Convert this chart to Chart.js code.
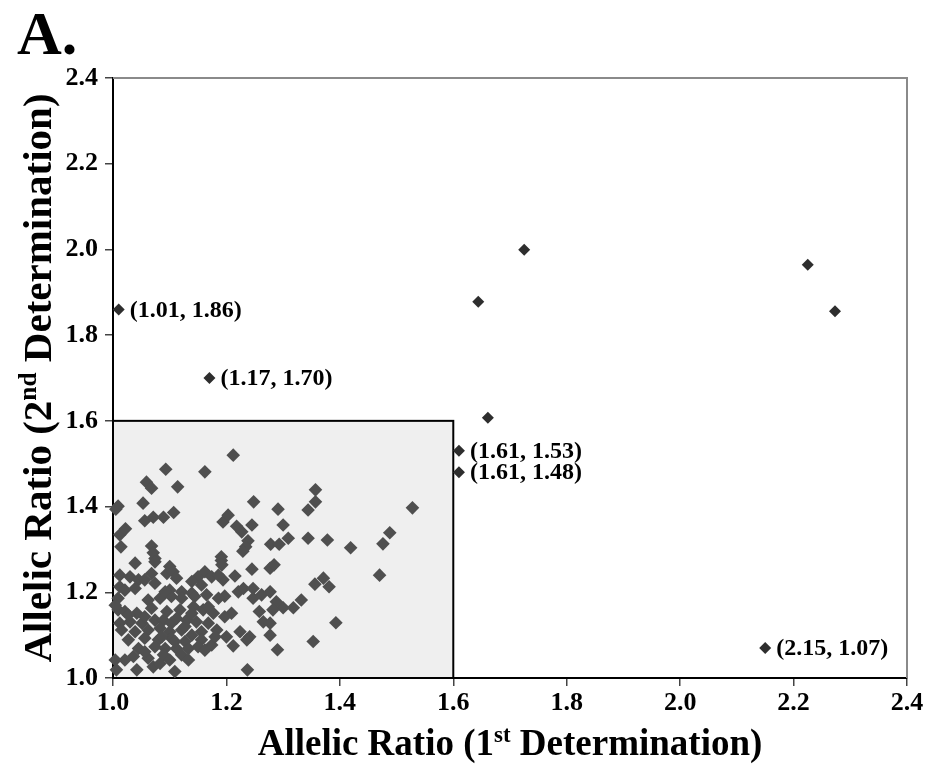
<!DOCTYPE html>
<html>
<head>
<meta charset="utf-8">
<script src="https://cdn.jsdelivr.net/npm/chart.js@4.4.1/dist/chart.umd.min.js"></script>
<style>
  html, body { margin: 0; padding: 0; background: #ffffff; }
  #wrap { position: relative; width: 929px; height: 764px; }
  canvas { display: block; }
</style>
</head>
<body>
<div id="wrap"><canvas id="chart" width="929" height="764"></canvas></div>
<script>
// Axis ticks (both axes share the same range)
const axisTicks = [1.0, 1.2, 1.4, 1.6, 1.8, 2.0, 2.2, 2.4];

// Reference window: ratios up to 1.6 on both determinations
const windowMin = 1.0;
const windowMax = 1.6;

// Samples inside the window: [1st determination, 2nd determination]
const windowUpper = [
  [1.212,1.520],[1.093,1.487],[1.162,1.481],[1.059,1.457],[1.068,1.443],[1.114,1.446],
  [1.009,1.401],[1.005,1.394],[1.053,1.408],[1.248,1.411],[1.291,1.394],[1.056,1.367],
  [1.071,1.375],[1.089,1.375],[1.107,1.386],[1.194,1.364],[1.203,1.380],[1.218,1.354],
  [1.227,1.341],[1.245,1.357],[1.300,1.357],[1.012,1.334],[1.022,1.348],[1.014,1.306],
  [1.068,1.308],[1.071,1.292],[1.074,1.279],[1.238,1.320],[1.234,1.306],[1.229,1.296],
  [1.278,1.312],[1.293,1.312],[1.309,1.326],[1.191,1.283],[1.191,1.274],[1.357,1.439],
  [1.357,1.411],[1.344,1.392],[1.344,1.326],[1.378,1.322],[1.419,1.304],[1.528,1.397],
  [1.488,1.339],[1.476,1.313]
];
const windowMiddle = [
  [1.470,1.240],[1.356,1.219],[1.371,1.233],[1.381,1.213],[1.332,1.182],[1.318,1.164],
  [1.300,1.164],[1.393,1.129],[1.353,1.085],[1.290,1.066],[1.245,1.254],[1.277,1.256],
  [1.284,1.264],[1.215,1.238],[1.194,1.229],[1.221,1.201],[1.230,1.209],[1.197,1.191],
  [1.247,1.209],[1.247,1.186],[1.262,1.194],[1.277,1.201],[1.288,1.178],[1.282,1.159],
  [1.258,1.155],[1.209,1.151],[1.197,1.143],[1.265,1.131],[1.277,1.128],[1.277,1.100],
  [1.200,1.096],[1.224,1.108],[1.241,1.096],[1.236,1.089],[1.212,1.075],[1.237,1.019],
  [1.192,1.264]
];
const windowLower = [
  [1.039,1.268],[1.074,1.271],[1.100,1.260],[1.012,1.240],[1.030,1.236],[1.045,1.229],
  [1.068,1.244],[1.095,1.244],[1.106,1.248],[1.112,1.233],[1.150,1.236],[1.162,1.248],
  [1.174,1.236],[1.186,1.240],[1.012,1.213],[1.021,1.205],[1.039,1.209],[1.074,1.221],
  [1.100,1.205],[1.121,1.201],[1.139,1.198],[1.156,1.217],[1.009,1.186],[1.062,1.182],
  [1.083,1.186],[1.103,1.190],[1.121,1.186],[1.144,1.190],[1.165,1.194],[1.186,1.186],
  [1.009,1.159],[1.021,1.155],[1.042,1.151],[1.068,1.163],[1.095,1.155],[1.118,1.159],
  [1.142,1.166],[1.159,1.159],[1.177,1.151],[1.012,1.128],[1.030,1.131],[1.051,1.128],
  [1.074,1.135],[1.089,1.135],[1.103,1.128],[1.112,1.139],[1.130,1.135],[1.147,1.131],
  [1.168,1.128],[1.015,1.112],[1.039,1.108],[1.062,1.112],[1.083,1.116],[1.100,1.108],
  [1.121,1.112],[1.139,1.100],[1.156,1.108],[1.183,1.112],[1.027,1.089],[1.056,1.093],
  [1.080,1.089],[1.103,1.093],[1.127,1.085],[1.156,1.089],[1.174,1.077],[1.045,1.069],
  [1.074,1.073],[1.092,1.069],[1.112,1.069],[1.133,1.069],[1.150,1.073],[1.162,1.065],
  [1.036,1.050],[1.062,1.046],[1.089,1.054],[1.121,1.054],[1.021,1.042],[1.004,1.042],
  [1.071,1.026],[1.083,1.034],[1.006,1.019],[1.109,1.015],[1.042,1.019]
];
// Samples partly hidden inside the densest overlap
const windowDense = [
  [1.004,1.170],[1.027,1.147],[1.056,1.143],[1.086,1.096],[1.109,1.085],[1.127,1.120],
  [1.139,1.151],[1.168,1.166],[1.180,1.096],[1.133,1.042],[1.100,1.042],[1.056,1.061],
  [1.139,1.225],[1.092,1.201],[1.056,1.229]
];

// Samples outside the window
const outsideUnlabelled = [
  [1.644,1.878],[1.725,1.999],[1.661,1.607],[2.225,1.964],[2.273,1.856]
];
const outsideLabelled = [
  [1.01,1.86],[1.17,1.70],[1.61,1.53],[1.61,1.48],[2.15,1.07]
];

const SERIF = '"Liberation Serif", "Times New Roman", Times, serif';

const toXY = arr => arr.map(p => ({ x: p[0], y: p[1] }));
const insidePts = toXY(windowUpper.concat(windowMiddle, windowLower, windowDense));

// Grey window box with black outline, plus grey top/right frame
const framePlugin = {
  id: 'frame',
  beforeDatasetsDraw(chart) {
    const { ctx, chartArea: a, scales: { x, y } } = chart;
    ctx.save();
    ctx.strokeStyle = '#8a8a8a';
    ctx.lineWidth = 2;
    ctx.beginPath();
    ctx.moveTo(a.left, a.top);
    ctx.lineTo(a.right, a.top);
    ctx.lineTo(a.right, a.bottom);
    ctx.stroke();

    const x0 = x.getPixelForValue(windowMin), x1 = x.getPixelForValue(windowMax);
    const y0 = y.getPixelForValue(windowMin), y1 = y.getPixelForValue(windowMax);
    ctx.fillStyle = '#efefef';
    ctx.fillRect(x0, y1, x1 - x0, y0 - y1);
    ctx.strokeStyle = '#000000';
    ctx.lineWidth = 2;
    ctx.strokeRect(x0, y1, x1 - x0, y0 - y1);
    ctx.restore();
  }
};

function drawRich(ctx, parts, size, supScale) {
  let total = 0;
  const widths = parts.map(p => {
    ctx.font = 'bold ' + (p.sup ? size * supScale : size) + 'px ' + SERIF;
    const w = ctx.measureText(p.t).width;
    total += w;
    return w;
  });
  let cx = -total / 2;
  parts.forEach((p, i) => {
    ctx.font = 'bold ' + (p.sup ? size * supScale : size) + 'px ' + SERIF;
    ctx.fillText(p.t, cx, p.sup ? -size * 0.36 : 0);
    cx += widths[i];
  });
}

// Axis titles, panel letter and point value labels
const textPlugin = {
  id: 'texts',
  afterDatasetsDraw(chart) {
    const { ctx, chartArea: a, scales: { x, y } } = chart;
    ctx.save();
    ctx.fillStyle = '#000000';
    ctx.textBaseline = 'alphabetic';
    ctx.textAlign = 'left';

    // panel letter
    ctx.font = 'bold 62px ' + SERIF;
    ctx.fillText('A.', 17, 54);

    // x title
    ctx.save();
    ctx.translate((a.left + a.right) / 2, 755);
    drawRich(ctx, [
      { t: 'Allelic Ratio (1' }, { t: 'st', sup: true }, { t: ' Determination)' }
    ], 37, 0.62);
    ctx.restore();

    // y title
    ctx.save();
    ctx.translate(51, (a.top + a.bottom) / 2);
    ctx.rotate(-Math.PI / 2);
    drawRich(ctx, [
      { t: 'Allelic Ratio (2' }, { t: 'nd', sup: true }, { t: ' Determination)' }
    ], 41, 0.62);
    ctx.restore();

    // value labels beside the outlying points
    ctx.font = 'bold 24px ' + SERIF;
    ctx.textBaseline = 'middle';
    outsideLabelled.forEach(p => {
      const px = x.getPixelForValue(p[0]);
      const py = y.getPixelForValue(p[1]);
      ctx.fillText('(' + p[0].toFixed(2) + ', ' + p[1].toFixed(2) + ')', px + 11, py + 1);
    });
    ctx.restore();
  }
};

const tickFont = { family: SERIF, size: 26, weight: 'bold' };

new Chart(document.getElementById('chart'), {
  type: 'scatter',
  data: {
    datasets: [
      {
        label: 'within window',
        data: insidePts,
        pointStyle: 'rectRot',
        pointRadius: 6.8,
        pointHoverRadius: 6.8,
        backgroundColor: '#4f4f4f',
        borderColor: '#4f4f4f',
        borderWidth: 0,
        clip: false
      },
      {
        label: 'outside window',
        data: toXY(outsideUnlabelled.concat(outsideLabelled)),
        pointStyle: 'rectRot',
        pointRadius: 6,
        pointHoverRadius: 6,
        backgroundColor: '#2e2e2e',
        borderColor: '#2e2e2e',
        borderWidth: 0,
        clip: false
      }
    ]
  },
  options: {
    responsive: false,
    animation: false,
    events: [],
    layout: { padding: { left: 0, top: 78, right: 22, bottom: 0 } },
    plugins: {
      legend: { display: false },
      tooltip: { enabled: false },
      title: { display: false }
    },
    scales: {
      x: {
        type: 'linear',
        min: axisTicks[0],
        max: axisTicks[axisTicks.length - 1],
        afterBuildTicks: s => { s.ticks = axisTicks.map(v => ({ value: v })); },
        afterFit: s => { s.height = 86; },
        grid: { display: true, drawOnChartArea: false, drawTicks: true, tickLength: 8, color: '#444', lineWidth: 1.5 },
        border: { display: true, color: '#000', width: 2 },
        ticks: {
          font: tickFont, color: '#000', padding: 2, maxRotation: 0, autoSkip: false,
          callback: v => v.toFixed(1)
        }
      },
      y: {
        type: 'linear',
        min: axisTicks[0],
        max: axisTicks[axisTicks.length - 1],
        afterBuildTicks: s => { s.ticks = axisTicks.map(v => ({ value: v })); },
        afterFit: s => { s.width = 113; },
        grid: { display: true, drawOnChartArea: false, drawTicks: true, tickLength: 8, color: '#444', lineWidth: 1.5 },
        border: { display: true, color: '#000', width: 2 },
        ticks: {
          font: tickFont, color: '#000', padding: 7, autoSkip: false,
          callback: v => v.toFixed(1)
        }
      }
    }
  },
  plugins: [framePlugin, textPlugin]
});
</script>
</body>
</html>
